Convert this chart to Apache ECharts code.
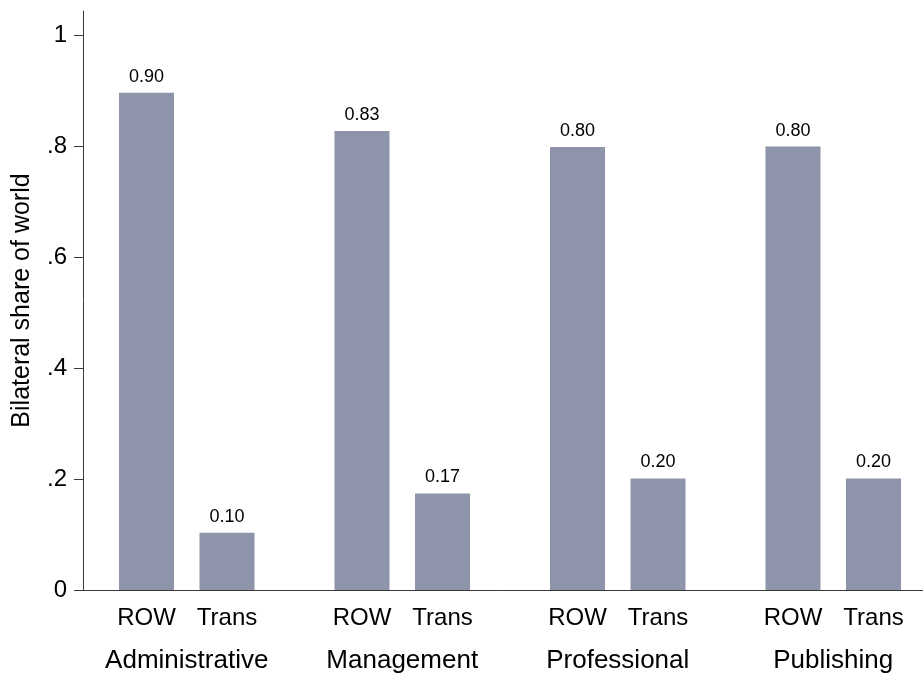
<!DOCTYPE html>
<html>
<head>
<meta charset="utf-8">
<script src="https://cdn.jsdelivr.net/npm/echarts@6/dist/echarts.min.js"></script>
<style>
html,body{margin:0;padding:0;background:#fff;}
#chart{width:923px;height:673px;}
</style>
</head>
<body>
<div id="chart"></div>
<script>
// ---- data ----
var groups = ['Administrative', 'Management', 'Professional', 'Publishing'];
var seriesNames = ['ROW', 'Trans'];
var rowValues = [0.896, 0.827, 0.798, 0.799];
var transValues = [0.103, 0.174, 0.201, 0.201];
var yTickValues = [0, 0.2, 0.4, 0.6, 0.8, 1];
var yTickLabels = ['0', '.2', '.4', '.6', '.8', '1'];

var FONT = '"Liberation Sans", Arial, Helvetica, sans-serif';
var BAR_COLOR = '#8e94a9';
var AXIS_COLOR = '#3a3a3a';

function valueLabel(p) { return p.value.toFixed(2); }

function visibleBar(name, data) {
  return {
    name: name, type: 'bar', xAxisIndex: 0, yAxisIndex: 0,
    data: data, barWidth: 55, barGap: '46.4%',
    itemStyle: { color: BAR_COLOR },
    label: { show: true, position: 'top', distance: 7, color: '#000',
      fontFamily: FONT, fontSize: 18, formatter: valueLabel },
    emphasis: { disabled: true }, silent: true
  };
}
function nameBar(name, data) {
  return {
    name: name + ' label', type: 'bar', xAxisIndex: 1, yAxisIndex: 0,
    data: data, barWidth: 55, barGap: '46.4%',
    itemStyle: { color: 'rgba(0,0,0,0)' },
    label: { show: true, position: 'bottom', distance: 16, color: '#000',
      fontFamily: FONT, fontSize: 24, formatter: function () { return name; } },
    emphasis: { disabled: true }, silent: true, z: 1
  };
}

var chart = echarts.init(document.getElementById('chart'), null, { renderer: 'canvas' });
chart.setOption({
  animation: false,
  backgroundColor: '#fff',
  grid: { left: 79, right: -18, top: 11, bottom: 83, containLabel: false, outerBoundsMode: 'none' },
  xAxis: [{
    type: 'category', data: groups, boundaryGap: true,
    axisLine: { lineStyle: { color: AXIS_COLOR, width: 1 } },
    axisTick: { show: false },
    axisLabel: { margin: 58, color: '#000', fontFamily: FONT, fontSize: 26 },
    splitLine: { show: false }
  }, {
    type: 'category', data: groups, show: false
  }],
  yAxis: {
    type: 'value', min: 0, max: 1.0432, offset: -4,
    name: 'Bilateral share of world', nameLocation: 'middle', nameGap: 48,
    nameTextStyle: { color: '#000', fontFamily: FONT, fontSize: 25 },
    axisLine: { show: true, lineStyle: { color: AXIS_COLOR, width: 1 } },
    axisTick: { show: true, length: 9, customValues: yTickValues, lineStyle: { color: AXIS_COLOR } },
    axisLabel: { margin: 16, color: '#000', fontFamily: FONT, fontSize: 24,
      customValues: yTickValues,
      formatter: function (v) {
        var i = yTickValues.indexOf(v);
        return i >= 0 ? yTickLabels[i] : '';
      } },
    splitLine: { show: false }
  },
  series: [
    visibleBar(seriesNames[0], rowValues),
    visibleBar(seriesNames[1], transValues),
    nameBar(seriesNames[0], rowValues),
    nameBar(seriesNames[1], transValues)
  ]
});
</script>
</body>
</html>
